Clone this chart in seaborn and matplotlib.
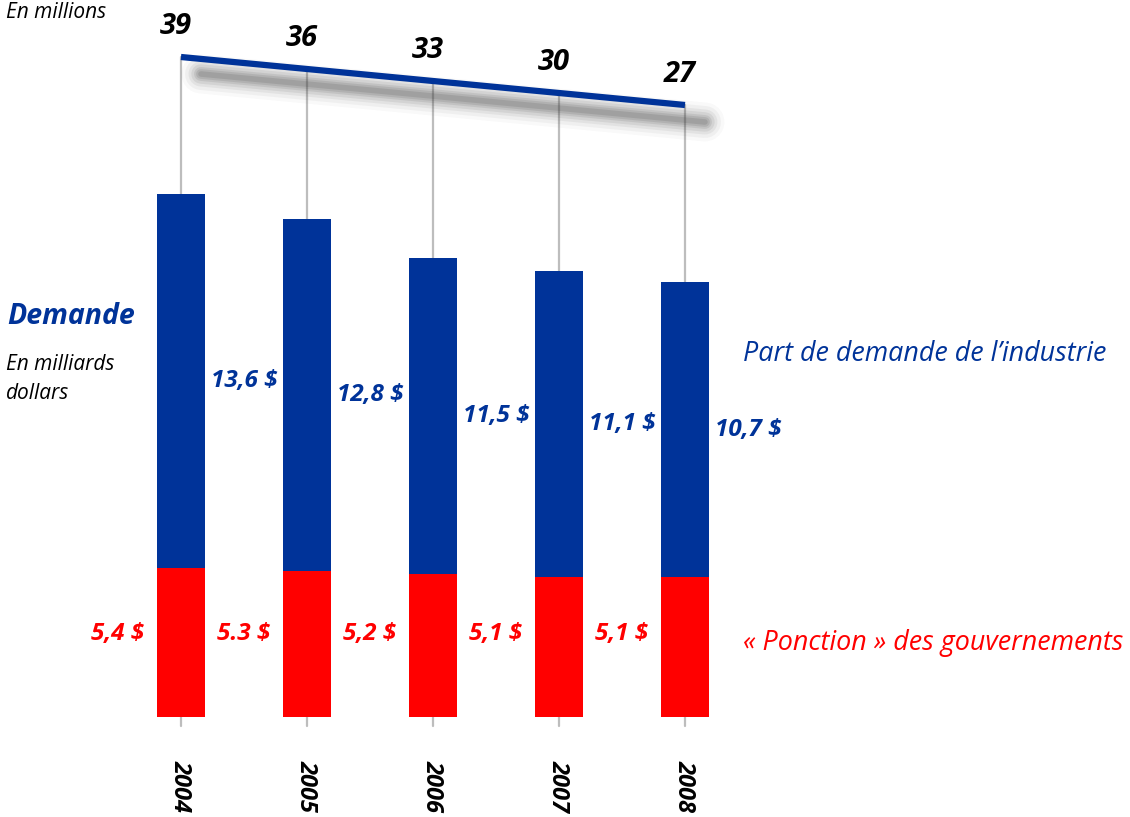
import matplotlib
matplotlib.use("Agg")
import matplotlib.pyplot as plt
import matplotlib.transforms as mtransforms
import seaborn as sns
import pandas as pd

# data
years = ["2004", "2005", "2006", "2007", "2008"]
industry = [13.6, 12.8, 11.5, 11.1, 10.7]        # milliards $
government = [5.4, 5.3, 5.2, 5.1, 5.1]           # milliards $
industry_labels = ["13,6 $", "12,8 $", "11,5 $", "11,1 $", "10,7 $"]
government_labels = ["5,4 $", "5.3 $", "5,2 $", "5,1 $", "5,1 $"]
consumers = [39, 36, 33, 30, 27]                 # millions

BLUE = "#003399"
RED = "#FF0000"
W, H = 1130, 817

sns.set_theme(style="white")
plt.rcParams["font.family"] = ["Open Sans", "DejaVu Sans"]

df = pd.DataFrame({"year": years, "industry": industry, "government": government})
df["total"] = df["industry"] + df["government"]

fig = plt.figure(figsize=(W / 100, H / 100), dpi=100)
ax = fig.add_axes([0, 0, 1, 1])

sns.barplot(data=df, x="year", y="total", color=BLUE, saturation=1, width=0.38,
            linewidth=0, ax=ax, zorder=2)
sns.barplot(data=df, x="year", y="government", color=RED, saturation=1, width=0.38,
            linewidth=0, ax=ax, zorder=3)
ax.set_xlim(-1.4365, 7.532)
ax.set_ylim(-3.636, 26.07)
ax.axis("off")

# consumer line on a twin axis
ax2 = ax.twinx()
ax2.set_ylim(-151, 53.25)
ax2.axis("off")
xs = list(range(len(years)))

# soft shadow under the line
shadow = mtransforms.ScaledTranslation(0.2, -0.17, fig.dpi_scale_trans)
for lw, a in zip([28, 23, 18, 14, 10, 7, 4], [0.03, 0.05, 0.07, 0.09, 0.11, 0.13, 0.15]):
    ax2.plot(xs, consumers, color="#404040", lw=lw, alpha=a,
             solid_capstyle="round", transform=ax2.transData + shadow, zorder=1)

sns.lineplot(x=xs, y=consumers, ax=ax2, color=BLUE, linewidth=4.5, zorder=3)
ax2.lines[-1].set_solid_capstyle("butt")

for i, v in enumerate(consumers):
    ax2.text(i - 0.04, v + 5.8, str(v), ha="center", va="baseline",
             fontsize=21, fontweight="bold", style="italic", color="black")

# grey drop lines from the line down past the bars
for i, v in enumerate(consumers):
    disp = ax2.transData.transform((i, v))
    top = ax.transData.inverted().transform(disp)[1]
    ax.plot([i, i], [-0.33, top], color="#BDBDBD", lw=1.6, zorder=1)

# bar value labels
for i in xs:
    ax.text(i + 0.24, government[i] + industry[i] / 2, industry_labels[i],
            ha="left", va="center", color=BLUE, fontsize=17.5,
            fontweight="bold", style="italic")
    ax.text(i - 0.29, 3.0, government_labels[i], ha="right", va="center",
            color=RED, fontsize=17.5, fontweight="bold", style="italic")
    ax.text(i, -1.55, years[i], rotation=-90, ha="center", va="top",
            fontsize=17, fontweight="bold", style="italic", color="black")


def ftext(x, y, s, **kw):
    fig.text(x / W, 1 - y / H, s, **kw)


ftext(6, 12, "En millions", fontsize=15, style="italic", va="center", color="black")
ftext(7, 316, "Demande", fontsize=20.5, fontweight="bold", style="italic",
      va="center", color=BLUE)
ftext(6, 364, "En milliards", fontsize=15, style="italic", va="center", color="black")
ftext(6, 393, "dollars", fontsize=15, style="italic", va="center", color="black")
ftext(743, 354, "Part de demande de l\u2019industrie", fontsize=19.4, style="italic",
      va="center", color=BLUE)
ftext(743, 643, "\u00ab Ponction \u00bb des gouvernements", fontsize=19.4, style="italic",
      va="center", color=RED)

fig.savefig("out.png", dpi=100)
